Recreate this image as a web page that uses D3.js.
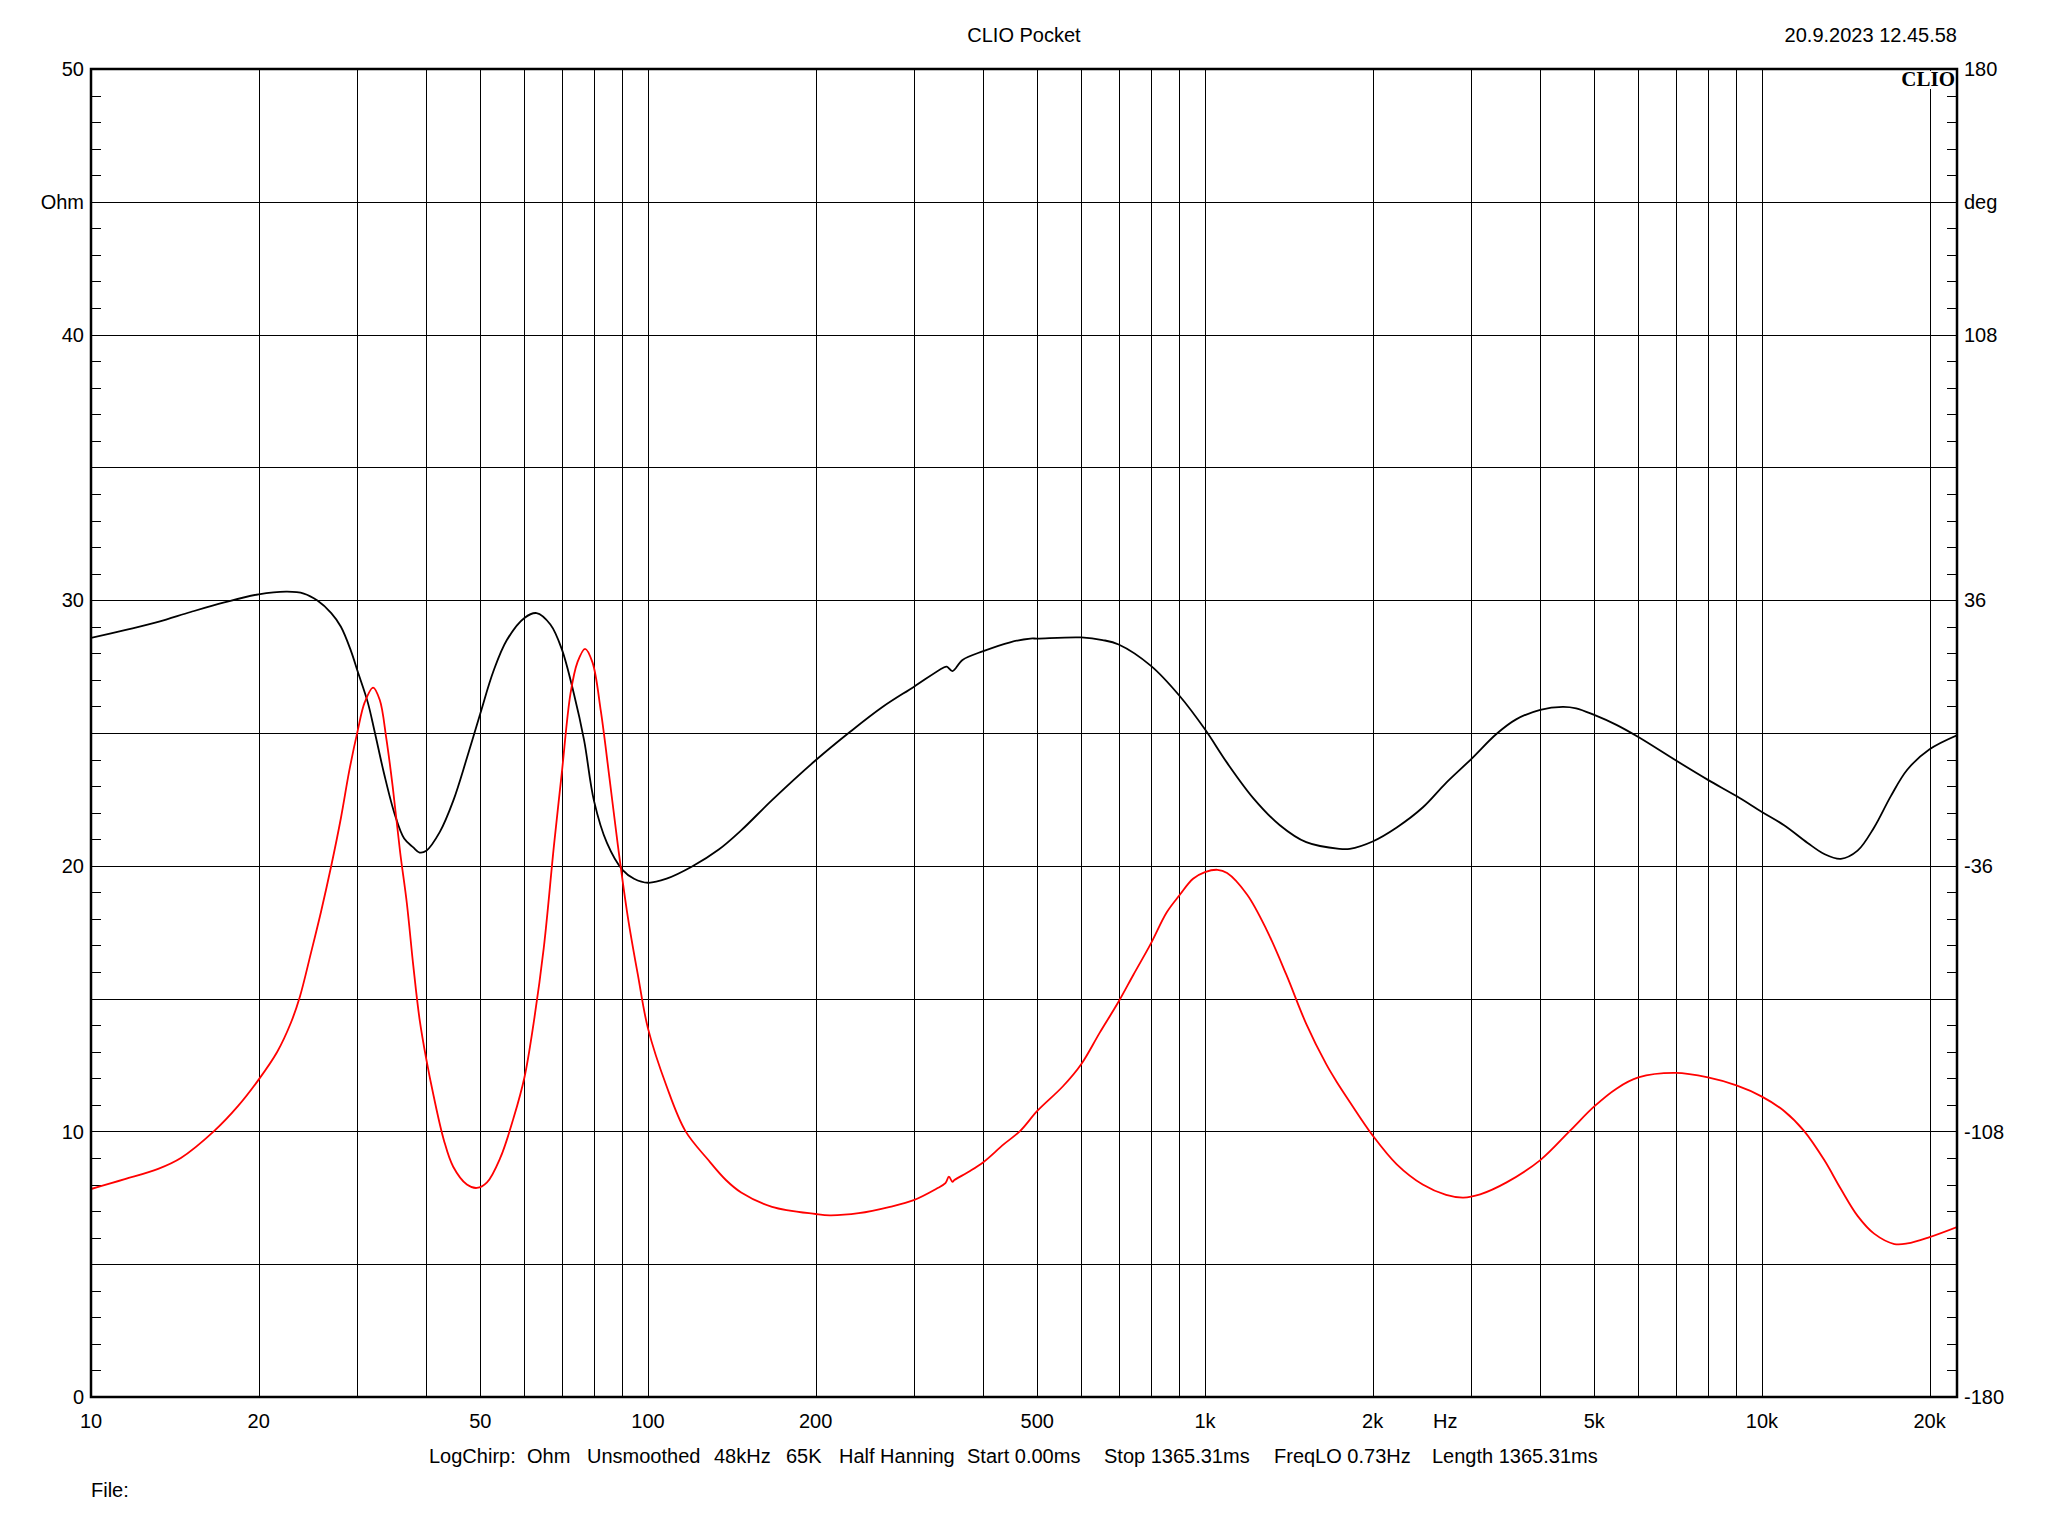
<!DOCTYPE html>
<html>
<head>
<meta charset="utf-8">
<script src="https://cdn.jsdelivr.net/npm/d3@7"></script>
<style>
  html, body { margin: 0; padding: 0; background: #fff; }
  svg { display: block; }
  text { font-family: "Liberation Sans", Arial, sans-serif; fill: #000; }
</style>
</head>
<body>
<script>
// ---------------- DATA ----------------
// Impedance magnitude (red, left axis, Ohm)
const magFreq = [10, 11.5, 13.2, 14.5, 16.65, 18.34, 20, 21.6, 22.86, 23.7, 24.84, 25.9, 27.0, 28.1, 29.1, 30.1, 31.0, 32.1, 33.0, 33.9, 34.8, 35.9, 36.9, 37.9, 38.9, 40, 41.2, 43.0, 44.7, 47.3, 49.3, 51.4, 54.3, 57.4, 60, 62.3, 65, 67.8, 70, 72.6, 74.7, 77.1, 79.5, 82.3, 85.3, 88.3, 92, 95.9, 100, 108, 116.7, 128, 138, 147, 167, 200, 212, 239, 272, 300, 329, 342, 347, 352, 355, 378, 400, 435, 466, 500, 556, 600, 647, 700, 744, 800, 854, 900, 952, 1000, 1053, 1096, 1190, 1291, 1400, 1520, 1650, 1720, 1820, 2000, 2210, 2460, 2710, 2910, 3120, 3480, 4000, 4520, 5000, 5480, 6000, 7000, 8000, 9000, 10000, 10960, 11900, 12940, 13860, 14850, 15900, 17290, 18250, 20000, 22400];
const magOhm  = [7.83, 8.2, 8.59, 9.0, 10.02, 10.94, 11.95, 13.0, 14.1, 15.05, 16.74, 18.3, 20.0, 21.8, 23.6, 25.06, 26.15, 26.71, 26.24, 24.8, 23.0, 20.5, 18.6, 16.24, 14.22, 12.71, 11.36, 9.68, 8.67, 8.0, 7.87, 8.08, 9.0, 10.52, 12.03, 14.05, 16.91, 20.77, 23.46, 26.49, 27.66, 28.17, 27.66, 25.82, 23.29, 20.77, 18.08, 15.9, 13.88, 11.7, 10.02, 8.95, 8.17, 7.7, 7.16, 6.89, 6.84, 6.92, 7.16, 7.41, 7.83, 8.05, 8.3, 8.1, 8.17, 8.5, 8.84, 9.51, 10.02, 10.77, 11.7, 12.54, 13.71, 14.89, 15.9, 17.08, 18.25, 18.89, 19.51, 19.76, 19.85, 19.73, 18.92, 17.58, 15.9, 14.05, 12.54, 11.9, 11.11, 9.85, 8.76, 8.0, 7.61, 7.51, 7.63, 8.08, 8.92, 10.02, 10.94, 11.61, 12.03, 12.2, 12.03, 11.73, 11.31, 10.77, 10.02, 8.92, 7.83, 6.82, 6.15, 5.76, 5.78, 6.02, 6.4];

// Impedance phase (black, right axis, deg)
const phaseFreq = [10, 11.5, 13.2, 15.1, 17.35, 20, 22.5, 24.1, 25.5, 27.0, 28.1, 29.3, 30.1, 31.4, 32.3, 33.6, 35.1, 36.5, 37.9, 38.9, 40, 42.3, 44.7, 47.3, 50, 52.8, 55.8, 60, 63.1, 66.8, 70, 73.6, 76.8, 80, 84.4, 90, 94.4, 100, 108, 120, 134, 147, 167, 200, 231, 264, 300, 339, 344, 352, 367, 400, 447, 486, 500, 600, 655, 700, 800, 900, 1000, 1096, 1222, 1363, 1520, 1743, 1820, 2000, 2210, 2460, 2710, 3000, 3340, 3620, 4000, 4390, 4640, 5000, 5480, 6000, 7000, 8000, 9000, 10000, 10960, 12080, 12940, 13860, 14850, 15900, 17040, 18250, 20000, 22400];
const phaseDeg  = [25.8, 27.9, 30.1, 32.8, 35.4, 37.6, 38.3, 37.8, 35.9, 32.5, 28.8, 22.2, 16.8, 8.3, 0.4, -11.1, -22.0, -28.6, -31.0, -32.4, -31.9, -26.8, -18.4, -6.8, 5.3, 16.8, 25.2, 31.2, 32.5, 29.4, 22.8, 10.7, -2.0, -18.4, -29.8, -37.1, -39.5, -40.6, -39.5, -36.2, -31.6, -26.4, -18.2, -7.4, 0.4, 7.1, 12.5, 17.7, 18.0, 16.8, 19.8, 22.2, 24.6, 25.6, 25.6, 25.9, 25.2, 24.0, 18.2, 10.1, 1.0, -8.1, -17.7, -25.0, -29.6, -31.4, -31.4, -29.4, -25.6, -20.2, -13.5, -7.2, -0.2, 3.7, 6.3, 7.1, 6.7, 4.9, 2.2, -1.1, -7.4, -12.7, -17.1, -21.4, -25.0, -29.8, -32.8, -34.1, -31.9, -25.6, -17.1, -9.9, -4.4, -0.6];

// Axis ticks
const xGridFreqs = [20, 30, 40, 50, 60, 70, 80, 90, 100, 200, 300, 400, 500, 600, 700, 800, 900, 1000, 2000, 3000, 4000, 5000, 6000, 7000, 8000, 9000, 10000, 20000];
const xLabelFreqs = [10, 20, 50, 100, 200, 500, 1000, 2000, 2700, 5000, 10000, 20000];
const xLabelTexts = ["10", "20", "50", "100", "200", "500", "1k", "2k", "Hz", "5k", "10k", "20k"];
const yLeftVals  = [50, 45, 40, 30, 20, 10, 0];
const yLeftTexts = ["50", "Ohm", "40", "30", "20", "10", "0"];
const yRightVals  = [180, 144, 108, 36, -36, -108, -180];
const yRightTexts = ["180", "deg", "108", "36", "-36", "-108", "-180"];
const infoTexts = ["LogChirp:", "Ohm", "Unsmoothed", "48kHz", "65K", "Half Hanning", "Start 0.00ms", "Stop 1365.31ms", "FreqLO 0.73Hz", "Length 1365.31ms"];
const infoX = [429, 527, 587, 714, 786, 839, 967, 1104, 1274, 1432];

// ---------------- LAYOUT ----------------
const W = 2048, H = 1536;
const L = 91, R = 1957, T = 69, B = 1397;
const FS = "20px";

const svg = d3.select("body").append("svg").attr("width", W).attr("height", H);
svg.append("rect").attr("width", W).attr("height", H).attr("fill", "#fff");

const x = d3.scaleLog().domain([10, 22400]).range([L, R]);
const y = d3.scaleLinear().domain([0, 50]).range([B, T]);
const yPh = d3.scaleLinear().domain([-180, 180]).range([B, T]);

const crisp = v => Math.round(v) + 0.5;

// vertical gridlines
svg.append("g").selectAll("line").data(xGridFreqs).join("line")
  .attr("x1", d => crisp(x(d))).attr("x2", d => crisp(x(d)))
  .attr("y1", T).attr("y2", B)
  .attr("stroke", "#000").attr("stroke-width", 1);

// horizontal gridlines every 5 ohm
const hGrid = d3.range(5, 50, 5);
svg.append("g").selectAll("line").data(hGrid).join("line")
  .attr("x1", L).attr("x2", R)
  .attr("y1", d => crisp(y(d))).attr("y2", d => crisp(y(d)))
  .attr("stroke", "#000").attr("stroke-width", 1);

// minor ticks every 1 ohm, inside both sides
const minor = d3.range(1, 50).filter(v => v % 5 !== 0);
svg.append("g").selectAll("line").data(minor).join("line")
  .attr("x1", L).attr("x2", L + 10)
  .attr("y1", d => crisp(y(d))).attr("y2", d => crisp(y(d)))
  .attr("stroke", "#000").attr("stroke-width", 1);
svg.append("g").selectAll("line").data(minor).join("line")
  .attr("x1", R - 10).attr("x2", R)
  .attr("y1", d => crisp(y(d))).attr("y2", d => crisp(y(d)))
  .attr("stroke", "#000").attr("stroke-width", 1);

// curves
svg.append("clipPath").attr("id", "plotclip").append("rect")
  .attr("x", L).attr("y", T).attr("width", R - L).attr("height", B - T);

const magData = magFreq.map((f, i) => [f, magOhm[i]]);
const phData = phaseFreq.map((f, i) => [f, phaseDeg[i]]);

const magLine = d3.line().x(d => x(d[0])).y(d => y(d[1])).curve(d3.curveCatmullRom.alpha(0.5));
const phLine = d3.line().x(d => x(d[0])).y(d => yPh(d[1])).curve(d3.curveCatmullRom.alpha(0.5));

svg.append("path").attr("d", phLine(phData)).attr("fill", "none")
  .attr("stroke", "#000").attr("stroke-width", 1.8).attr("clip-path", "url(#plotclip)");
svg.append("path").attr("d", magLine(magData)).attr("fill", "none")
  .attr("stroke", "#ff0000").attr("stroke-width", 1.8).attr("clip-path", "url(#plotclip)");

// CLIO logo
svg.append("rect").attr("x", 1900).attr("y", 71).attr("width", 55).attr("height", 18).attr("fill", "#fff");
svg.append("text").attr("x", 1955).attr("y", 86).attr("text-anchor", "end")
  .style("font-family", "'Liberation Serif', 'DejaVu Serif', serif")
  .style("font-weight", "bold").style("font-size", "21px").text("CLIO");

// frame
svg.append("rect").attr("x", L).attr("y", T).attr("width", R - L).attr("height", B - T)
  .attr("fill", "none").attr("stroke", "#000").attr("stroke-width", 2.5);

// left labels
svg.append("g").selectAll("text").data(yLeftVals).join("text")
  .attr("x", L - 7).attr("y", d => y(d)).attr("dy", "0.36em")
  .attr("text-anchor", "end").style("font-size", FS)
  .text((d, i) => yLeftTexts[i]);

// right labels
svg.append("g").selectAll("text").data(yRightVals).join("text")
  .attr("x", R + 7).attr("y", d => yPh(d)).attr("dy", "0.36em")
  .attr("text-anchor", "start").style("font-size", FS)
  .text((d, i) => yRightTexts[i]);

// bottom labels
svg.append("g").selectAll("text").data(xLabelFreqs).join("text")
  .attr("x", d => x(d)).attr("y", 1428)
  .attr("text-anchor", "middle").style("font-size", FS)
  .text((d, i) => xLabelTexts[i]);

// title & date
svg.append("text").attr("x", 1024).attr("y", 42).attr("text-anchor", "middle")
  .style("font-size", FS).text("CLIO Pocket");
svg.append("text").attr("x", R).attr("y", 42).attr("text-anchor", "end")
  .style("font-size", FS).text("20.9.2023 12.45.58");

// info row
svg.append("g").selectAll("text").data(infoTexts).join("text")
  .attr("x", (d, i) => infoX[i]).attr("y", 1463)
  .style("font-size", FS).text(d => d);

svg.append("text").attr("x", L).attr("y", 1497).style("font-size", FS).text("File:");
</script>
</body>
</html>
